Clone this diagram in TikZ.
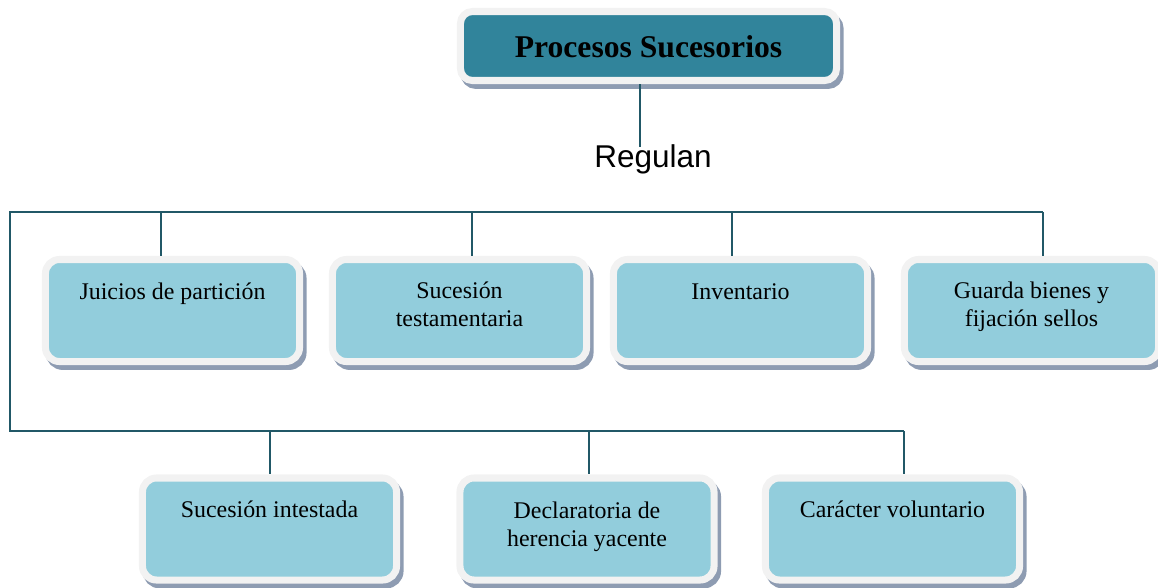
\documentclass[tikz,border=0pt]{standalone}
\usepackage{fontspec}
\setmainfont{Liberation Serif}
\newfontfamily\arialfont{Liberation Sans}
\usetikzlibrary{positioning}

\definecolor{boxfill}{HTML}{92CDDC}
\definecolor{titlefill}{HTML}{31849B}
\definecolor{rimgrey}{HTML}{F2F2F2}
\definecolor{shadowc}{HTML}{8E9CB2}
\definecolor{linec}{HTML}{215867}

\begin{document}
\begin{tikzpicture}[x=0.025cm, y=-0.025cm,
  box/.style={draw=rimgrey, line width=5pt, fill=boxfill, rounded corners=0.35cm,
    minimum width=6.35cm, minimum height=2.55cm, inner sep=0pt,
    preaction={draw=shadowc, fill=shadowc, line width=5pt,
      transform canvas={xshift=2.5pt, yshift=-3.5pt}}},
  titlebox/.style={box, fill=titlefill, rounded corners=0.3cm,
    minimum width=9.4cm, minimum height=1.725cm},
  lbl/.style={font=\fontsize{17}{19.9}\selectfont, align=center, anchor=base},
  conn/.style={draw=linec, line width=1.4pt}]

  \useasboundingbox (0,0) rectangle (1158,587);

  % connection points
  \coordinate (r) at (640,147);
  \coordinate (c0) at (10,212);
  \coordinate (c1) at (10,431);
  \coordinate (a1) at (161,212);
  \coordinate (a2) at (472,212);
  \coordinate (a3) at (732,212);
  \coordinate (a4) at (1043,212);
  \coordinate (b1) at (270,431);
  \coordinate (b2) at (589,431);
  \coordinate (b3) at (904,431);

  % boxes
  \node[titlebox] (proc) at (648.5,46) {};
  \node[box] (j1) at (172.5,310.5) {};
  \node[box] (j2) at (459.5,310.5) {};
  \node[box] (j3) at (740.5,310.5) {};
  \node[box] (j4) at (1031.5,310.5) {};
  \node[box] (s1) at (269.5,529) {};
  \node[box] (s2) at (587,529) {};
  \node[box] (s3) at (892.5,529) {};

  % lines
  \draw[conn] (r |- proc.south) -- (r);
  \draw[conn] (a4) -- (c0) -- (c1) -- (b3);
  \draw[conn] (a1) -- (a1 |- j1.north);
  \draw[conn] (a2) -- (a2 |- j2.north);
  \draw[conn] (a3) -- (a3 |- j3.north);
  \draw[conn] (a4) -- (a4 |- j4.north);
  \draw[conn] (b1) -- (b1 |- s1.north);
  \draw[conn] (b2) -- (b2 |- s2.north);
  \draw[conn] (b3) -- (b3 |- s3.north);

  % texts (base = last line)
  \node[anchor=base, font=\fontsize{22.5}{26}\selectfont\bfseries] (proct) at (648.5,57) {Procesos Sucesorios};
  \node[anchor=base, font=\arialfont\fontsize{22.4}{26}\selectfont] (reg) at (653,167) {Regulan};
  \node[lbl] (j1t) at (172.5,299) {Juicios de partición};
  \node[lbl] (j2t) at (459.5,326) {Sucesión\\testamentaria};
  \node[lbl] (j3t) at (740.5,299) {Inventario};
  \node[lbl] (j4t) at (1031.5,326) {Guarda bienes y\\fijación sellos};
  \node[lbl] (s1t) at (269.5,517) {Sucesión intestada};
  \node[lbl] (s2t) at (587,546) {Declaratoria de\\herencia yacente};
  \node[lbl] (s3t) at (892.5,517) {Carácter voluntario};

\end{tikzpicture}
\end{document}
